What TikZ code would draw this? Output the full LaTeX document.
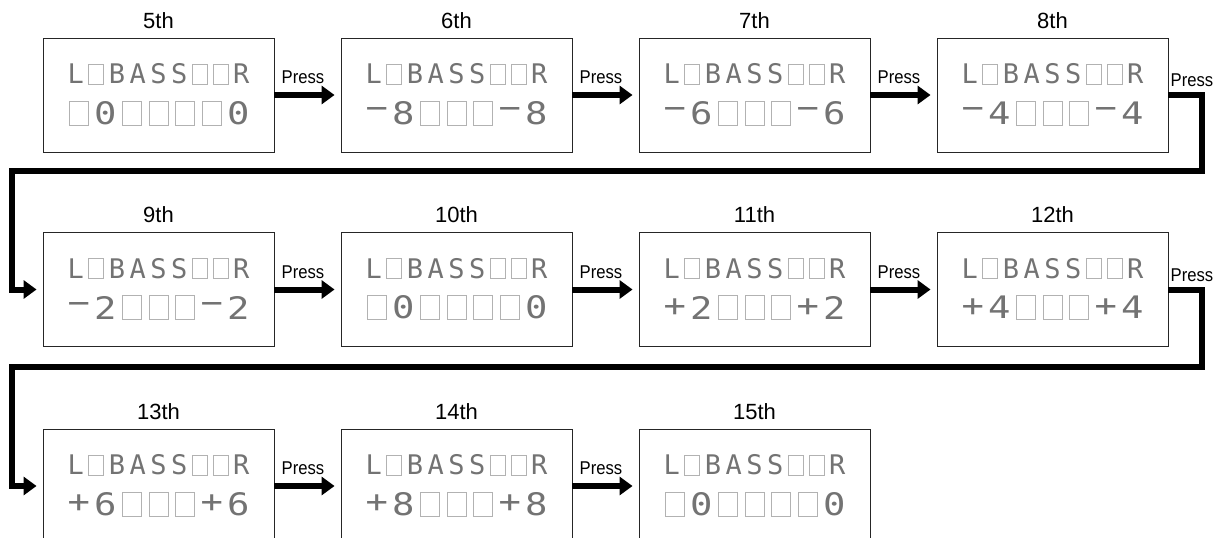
\documentclass[tikz,border=0pt]{standalone}
\usepackage{fontspec}
\setmainfont{Liberation Sans}
\newfontfamily\lcdfont{DejaVu Sans Mono}
\usetikzlibrary{calc,arrows.meta}

% two display lines inside a box: line 1 is fixed, line 2 is given
\newcommand{\lcdtext}[2]{%
  \foreach \c [count=\i] in {L,□,B,A,S,S,□,□,R} {
    \if\c□
      \node[blankA] (#1-a\i) at ($(#1.center)+({(\i-5)*20.7},-21)$) {};
    \else
      \node[charA] (#1-a\i) at ($(#1.center)+({(\i-5)*20.7},-21)$) {\c};
    \fi
  }
  \foreach \c [count=\i] in {#2} {
    \if\c□
      \node[blankB] (#1-b\i) at ($(#1.center)+({(\i-4)*26.6},18)$) {};
    \else
      \node[charB] (#1-b\i) at ($(#1.center)+({(\i-4)*26.6},18)$) {\c};
    \fi
  }
}

\begin{document}
\begin{tikzpicture}[x=1pt,y=-1pt,
  lcdbox/.style={draw=black!85,line width=0.9pt,minimum width=231pt,minimum height=114pt,inner sep=0pt},
  title/.style={font=\fontsize{22}{26}\selectfont,inner sep=0pt,anchor=base},
  presslbl/.style={font=\fontsize{18.5}{22}\selectfont,inner sep=0pt,xscale=0.9},
  press/.style={line width=6pt,line join=miter,-{Triangle[width=18pt,length=13pt]},shorten >=6pt},
  charA/.style={font=\lcdfont\fontsize{27}{30}\selectfont,text=black!55,inner sep=0pt},
  charB/.style={font=\lcdfont\fontsize{31}{34}\selectfont,text=black!55,inner sep=0pt,xscale=1.2},
  blankA/.style={draw=black!30,line width=1pt,minimum width=15pt,minimum height=20pt,inner sep=0pt},
  blankB/.style={draw=black!30,line width=1pt,minimum width=19pt,minimum height=24pt,inner sep=0pt}]
\useasboundingbox (0,0) rectangle (1226,538);
\clip (0,0) rectangle (1226,538);

% first row
\node[lcdbox] (b5) at (158.5,95) {};
\node[lcdbox] (b6) at (456.5,95) {};
\node[lcdbox] (b7) at (754.5,95) {};
\node[lcdbox] (b8) at (1052.5,95) {};
% second row
\node[lcdbox] (b9) at (158.5,289.5) {};
\node[lcdbox] (b10) at (456.5,289.5) {};
\node[lcdbox] (b11) at (754.5,289.5) {};
\node[lcdbox] (b12) at (1052.5,289.5) {};
% third row
\node[lcdbox] (b13) at (158.5,486) {};
\node[lcdbox] (b14) at (456.5,486) {};
\node[lcdbox] (b15) at (754.5,486) {};

\node[title] (t5) at ([yshift=9pt]b5.north) {5th};
\node[title] (t6) at ([yshift=9pt]b6.north) {6th};
\node[title] (t7) at ([yshift=9pt]b7.north) {7th};
\node[title] (t8) at ([yshift=9pt]b8.north) {8th};
\node[title] (t9) at ([yshift=9.5pt]b9.north) {9th};
\node[title] (t10) at ([yshift=9.5pt]b10.north) {10th};
\node[title] (t11) at ([yshift=9.5pt]b11.north) {11th};
\node[title] (t12) at ([yshift=9.5pt]b12.north) {12th};
\node[title] (t13) at ([yshift=9.5pt]b13.north) {13th};
\node[title] (t14) at ([yshift=9.5pt]b14.north) {14th};
\node[title] (t15) at ([yshift=9.5pt]b15.north) {15th};

\lcdtext{b5}{□,0,□,□,□,□,0}
\lcdtext{b6}{−,8,□,□,□,−,8}
\lcdtext{b7}{−,6,□,□,□,−,6}
\lcdtext{b8}{−,4,□,□,□,−,4}
\lcdtext{b9}{−,2,□,□,□,−,2}
\lcdtext{b10}{□,0,□,□,□,□,0}
\lcdtext{b11}{+,2,□,□,□,+,2}
\lcdtext{b12}{+,4,□,□,□,+,4}
\lcdtext{b13}{+,6,□,□,□,+,6}
\lcdtext{b14}{+,8,□,□,□,+,8}
\lcdtext{b15}{□,0,□,□,□,□,0}

\path[draw,press] (b5) -- node[presslbl,above=8pt,xshift=-5pt] (p5) {Press} (b6);
\path[draw,press] (b6) -- node[presslbl,above=8pt,xshift=-5pt] (p6) {Press} (b7);
\path[draw,press] (b7) -- node[presslbl,above=8pt,xshift=-5pt] (p7) {Press} (b8);
\path[draw,press] (b9) -- node[presslbl,above=8pt,xshift=-5pt] (p9) {Press} (b10);
\path[draw,press] (b10) -- node[presslbl,above=8pt,xshift=-5pt] (p10) {Press} (b11);
\path[draw,press] (b11) -- node[presslbl,above=8pt,xshift=-5pt] (p11) {Press} (b12);
\path[draw,press] (b13) -- node[presslbl,above=8pt,xshift=-5pt] (p13) {Press} (b14);
\path[draw,press] (b14) -- node[presslbl,above=8pt,xshift=-5pt] (p14) {Press} (b15);

% wrap to the next row
\coordinate (c1) at (1202,171);
\coordinate (c2) at (12,171);
\coordinate (c3) at (1202,367);
\coordinate (c4) at (12,367);
\node[presslbl,anchor=south west] (p8) at ([xshift=2pt,yshift=8pt]b8.east) {Press};
\node[presslbl,anchor=south west] (p12) at ([xshift=2pt,yshift=8pt]b12.east) {Press};
\path[draw,press] (b8.east) -| (c1) -- (c2) |- (b9.west);
\path[draw,press] (b12.east) -| (c3) -- (c4) |- (b13.west);
\end{tikzpicture}
\end{document}
